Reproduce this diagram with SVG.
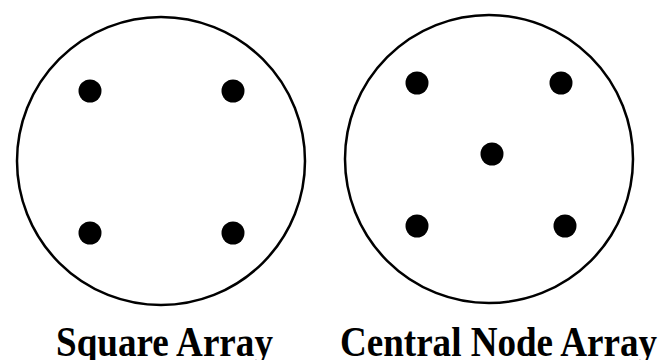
<svg xmlns="http://www.w3.org/2000/svg" width="659" height="360" viewBox="0 0 659 360">
<style>
.ring{fill:none;stroke:#000;stroke-width:2.5}
.dot{fill:#000}
.lbl{font-family:"Liberation Serif","Times New Roman",serif;font-weight:bold;font-size:42px;fill:#000}
</style>
<rect width="659" height="360" fill="#fff"/>
<g id="square-array">
<circle class="ring" cx="161" cy="161" r="144"/>
<circle class="dot" cx="90" cy="91" r="11.5"/>
<circle class="dot" cx="233" cy="91" r="11.5"/>
<circle class="dot" cx="90" cy="233" r="11.5"/>
<circle class="dot" cx="233" cy="233" r="11.5"/>
<text class="lbl" x="56" y="356" textLength="217" lengthAdjust="spacingAndGlyphs">Square Array</text>
</g>
<g id="central-node-array">
<circle class="ring" cx="489" cy="159" r="144"/>
<circle class="dot" cx="417" cy="83" r="11.5"/>
<circle class="dot" cx="561" cy="83" r="11.5"/>
<circle class="dot" cx="492" cy="154" r="11.5"/>
<circle class="dot" cx="417" cy="226" r="11.5"/>
<circle class="dot" cx="565" cy="226" r="11.5"/>
<text class="lbl" x="340" y="356" textLength="317" lengthAdjust="spacingAndGlyphs">Central Node Array</text>
</g>
<g id="connectors"/>
</svg>
